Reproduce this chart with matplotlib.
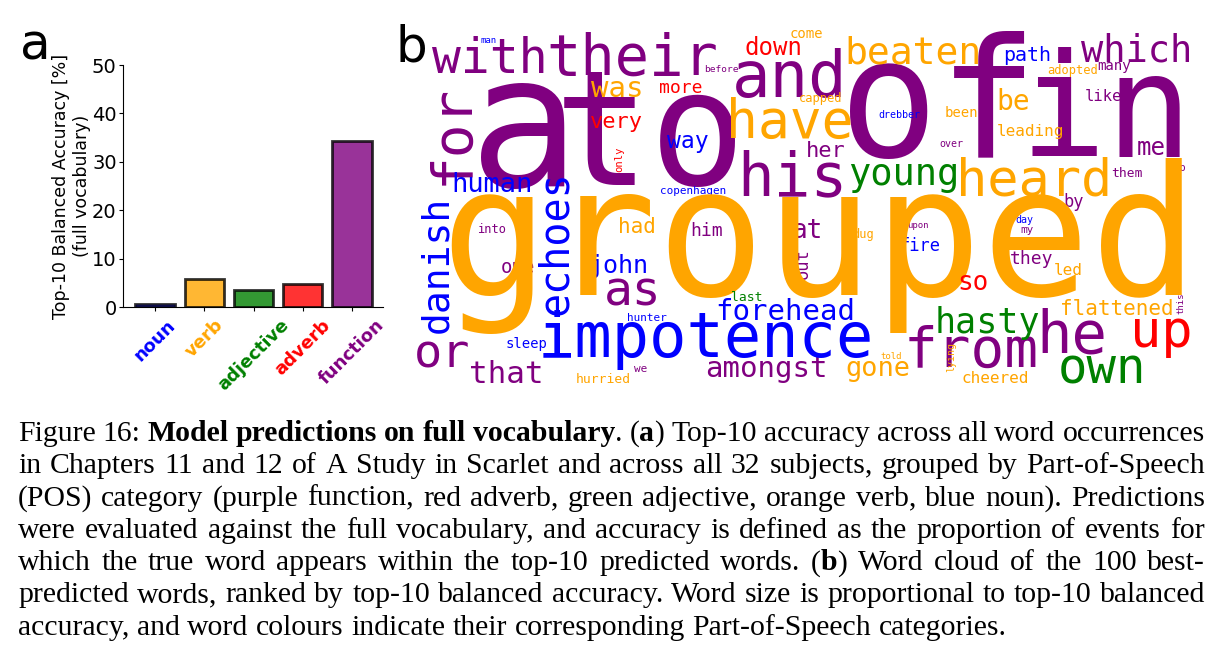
import matplotlib.pyplot as plt

# ---- panel a: accuracy per part of speech
pos_labels = ["noun", "verb", "adjective", "adverb", "function"]
pos_acc = [0.55, 5.7, 3.5, 4.75, 34.4]
pos_colors = ["blue", "orange", "green", "red", "purple"]
pos_color = dict(zip(pos_labels, pos_colors))

# ---- panel b: word cloud words and their POS
wc_words = ["a", "to", "of", "in", "with", "their", "and", "for", "before", "his",
            "her", "which", "many", "like", "over", "me", "them", "no", "by", "into",
            "him", "at", "one", "as", "out", "or", "that", "we", "amongst", "upon",
            "my", "they", "from", "he", "this",
            "human", "way", "copenhagen", "path", "drebber", "danish", "echoes", "john",
            "forehead", "hunter", "impotence", "sleep", "fire", "day", "man",
            "grouped", "was", "have", "beaten", "come", "capped", "be", "adopted", "been",
            "leading", "heard", "had", "hurried", "dug", "led", "flattened", "gone", "told",
            "cheered", "lying",
            "young", "last", "hasty", "own",
            "down", "more", "very", "only", "so", "up"]
wc_pos = ["function"] * 35 + ["noun"] * 15 + ["verb"] * 20 + ["adjective"] * 4 + ["adverb"] * 6

# layout of the cloud: centre x, baseline y (pixels), em size (pixels), rotation
wc_layout = [
    (524, 186, 184, 0), (650, 185, 160, 0), (938, 157, 165, 0), (1106, 157, 144, 0),
    (490, 73, 48, 0), (632, 75, 57, 0), (790, 97, 64, 0), (467, 134, 56, 90),
    (721, 72, 9.5, 0), (792, 195, 61, 0), (826, 157, 22, 0), (1137, 61, 37, 0),
    (1114, 70, 14, 0), (1103, 101, 15.5, 0), (951, 147, 10, 0), (1151, 155, 24, 0),
    (1127, 177, 13, 0), (1179, 171, 10.5, 0), (1074, 207, 17, 0), (492, 233, 12, 0),
    (707, 236, 18, 0), (807, 238, 26, 0), (518, 273, 19, 0), (633, 305, 48, 0),
    (808, 264, 17, 90), (442, 367, 47, 0), (506, 383, 31, 0), (641, 372, 11, 0),
    (766, 377, 29, 0), (918, 228, 9, 0), (1027, 233, 11, 0), (1032, 264, 18, 0),
    (971, 367, 56, 0), (1072, 353, 59, 0), (1183, 303, 9, 90),
    (492, 192, 27, 0), (688, 148, 23, 0), (693, 194, 11, 0), (1027, 61, 20, 0),
    (899, 118, 10, 0), (447, 264, 38, 90), (567, 243, 40, 90), (619, 273, 25, 0),
    (785, 320, 29, 0), (647, 321, 11, 0), (706, 357, 62, 0), (526, 348, 14, 0),
    (920, 251, 17, 0), (1024, 223, 10, 0), (489, 43, 9, 0),
    (820, 295, 180, 0), (617, 97, 29, 0), (790, 138, 53, 0), (913, 63, 38, 0),
    (806, 38, 14, 0), (821, 102, 12, 0), (1013, 110, 28, 0), (1073, 74, 12, 0),
    (961, 117, 14, 0), (1030, 136, 16, 0), (1034, 196, 52, 0), (637, 233, 21, 0),
    (603, 383, 13, 0), (863, 238, 12, 0), (1068, 275, 16, 0), (1117, 315, 21, 0),
    (878, 376, 27, 0), (891, 359, 9, 0), (995, 383, 16, 0), (954, 357, 10, 90),
    (904, 185, 37, 0), (747, 301, 13, 0), (987, 333, 35, 0), (1102, 383, 49, 0),
    (773, 55, 24, 0), (681, 93, 18, 0), (616, 128, 22, 0), (622, 159, 10.5, 90),
    (973, 290, 26, 0), (1161, 347, 52, 0),
]

caption_lines = [
    "Figure 16: **Model predictions on full vocabulary**. (**a**) Top-10 accuracy across all word occurrences",
    "in Chapters 11 and 12 of A Study in Scarlet and across all 32 subjects, grouped by Part-of-Speech",
    "(POS) category (purple function, red adverb, green adjective, orange verb, blue noun). Predictions",
    "were evaluated against the full vocabulary, and accuracy is defined as the proportion of events for",
    "which the true word appears within the top-10 predicted words.  (**b**) Word cloud of the 100 best-",
    "predicted words, ranked by top-10 balanced accuracy. Word size is proportional to top-10 balanced",
    "accuracy, and word colours indicate their corresponding Part-of-Speech categories.",
]

fig = plt.figure(figsize=(12.25, 6.6), dpi=100)

# full-figure axes in pixel units for the cloud, panel letters and caption
ax0 = fig.add_axes([0, 0, 1, 1])
ax0.set_xlim(0, 1225)
ax0.set_ylim(660, 0)
ax0.axis("off")

# ---- bar chart
ax = fig.add_axes([0.1004, 0.5348, 0.2123, 0.3667])
ax.bar(range(len(pos_labels)), pos_acc, width=0.8, color=pos_colors, alpha=0.8,
       edgecolor="black", linewidth=2)
ax.set_xlim(-0.65, 4.63)
ax.set_ylim(0, 50)
ax.set_yticks([0, 10, 20, 30, 40, 50])
ax.set_xticks(range(len(pos_labels)))
ax.set_xticklabels(pos_labels, rotation=45, fontweight="bold", fontsize=13)
for lbl, c in zip(ax.get_xticklabels(), pos_colors):
    lbl.set_color(c)
ax.tick_params(axis="y", labelsize=14, length=3, pad=1.5)
ax.tick_params(axis="x", length=3)
ax.spines["top"].set_visible(False)
ax.spines["right"].set_visible(False)
ax.set_ylabel("Top-10 Balanced Accuracy [%]\n(full vocabulary)", fontsize=12.5, labelpad=1)

# ---- word cloud
for w, p, (x, y, em, rot) in zip(wc_words, wc_pos, wc_layout):
    ax0.text(x, y, w, fontsize=em * 0.72, family="DejaVu Sans Mono", color=pos_color[p],
             ha="center", va="baseline", rotation=rot, rotation_mode="anchor")

# panel letters
ax0.text(20, 60, "a", fontsize=36, ha="left", va="baseline")
ax0.text(395, 62, "b", fontsize=36, ha="left", va="baseline")

# ---- caption, justified like the LaTeX original
cap_size = 21.4
cap_x0, cap_x1 = 18, 1205
cap_y0, cap_dy = 441, 32.3
renderer = fig.canvas.get_renderer()


def split_runs(line):
    chars = []
    for i, part in enumerate(line.split("**")):
        chars += [(ch, i % 2 == 1) for ch in part]
    words, cur = [], []
    for ch, b in chars + [(" ", False)]:
        if ch == " ":
            if cur:
                words.append(cur)
            cur = []
            continue
        if cur and cur[-1][1] == b:
            cur[-1][0] += ch
        else:
            cur.append([ch, b])
    return words


def text_w(s, bold=False):
    t = ax0.text(0, 0, s, fontsize=cap_size, family="Liberation Serif",
                 weight="bold" if bold else "normal")
    w = t.get_window_extent(renderer).width
    t.remove()
    return w


space_w = text_w("x x") - text_w("xx")

for i, line in enumerate(caption_lines):
    y = cap_y0 + i * cap_dy
    words = split_runs(line)
    placed, total = [], 0
    for runs in words:
        ts = []
        for s, b in runs:
            t = ax0.text(0, y, s, fontsize=cap_size, family="Liberation Serif",
                         weight="bold" if b else "normal", ha="left", va="baseline")
            ww = t.get_window_extent(renderer).width
            ts.append((t, ww))
            total += ww
        placed.append(ts)
    if i == len(caption_lines) - 1:
        gap = space_w
    else:
        gap = (cap_x1 - cap_x0 - total) / (len(words) - 1)
    x = cap_x0
    for ts in placed:
        for t, ww in ts:
            t.set_x(x)
            x += ww
        x += gap

fig.savefig("out.png", dpi=100)
